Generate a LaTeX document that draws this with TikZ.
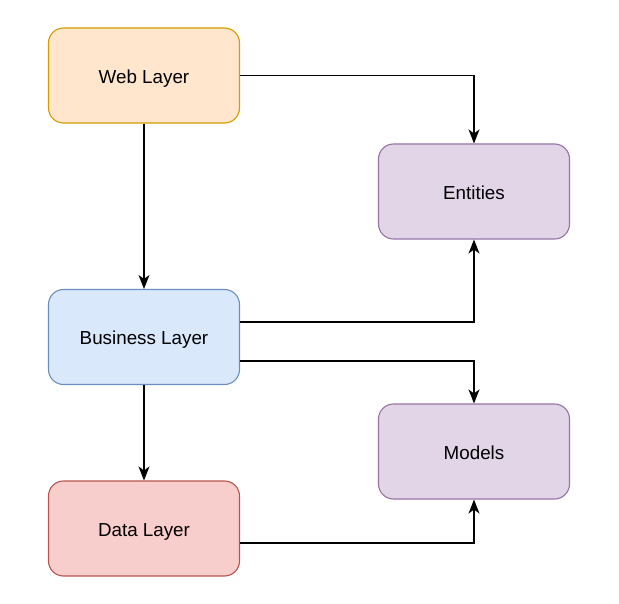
\documentclass[tikz,border=0pt]{standalone}
\usepackage{fontspec}
\setmainfont{Liberation Sans}
\usetikzlibrary{arrows.meta,positioning}
\definecolor{webFill}{HTML}{FFE6CC}
\definecolor{webDraw}{HTML}{D79B00}
\definecolor{bizFill}{HTML}{DAE8FC}
\definecolor{bizDraw}{HTML}{6C8EBF}
\definecolor{dataFill}{HTML}{F8CECC}
\definecolor{dataDraw}{HTML}{B85450}
\definecolor{modFill}{HTML}{E1D5E7}
\definecolor{modDraw}{HTML}{9673A6}
\tikzset{%
  layer/.style={rectangle,rounded corners=15pt,minimum width=191pt,
    minimum height=95pt,line width=1.1pt,draw=#1Draw,fill=#1Fill,
    text height=15.5pt,text depth=0pt,font=\fontsize{18.8}{22}\selectfont},
  layer/.default=mod,
  link/.style={line width=1.4pt,-{Stealth[length=14pt,width=11pt,inset=4pt]}}
}

\begin{document}
\begin{tikzpicture}[x=1pt,y=-1pt]
  \useasboundingbox[fill=white] (0,0) rectangle (619,604);
  % Layers
  \node[layer=web] (web) at (144,75.5) {Web Layer};
  \node[layer=biz] (biz) at (144,337) {Business Layer};
  \node[layer=data] (data) at (144,528.5) {Data Layer};
  % Shared parts
  \node[layer] (ent) at (474,191.5) {Entities};
  \node[layer] (mod) at (474,451.5) {Models};
  % Links
  \draw[link] (web) -- (biz);
  \draw[link] (biz) -- (data);
  \draw[link] (web.east) -| (ent.north);
  \draw[link] ([yshift=15pt]biz.east) -| (ent.south);
  \draw[link] ([yshift=-24pt]biz.east) -| (mod.north);
  \draw[link] ([yshift=-14.5pt]data.east) -| (mod.south);
\end{tikzpicture}
\end{document}
